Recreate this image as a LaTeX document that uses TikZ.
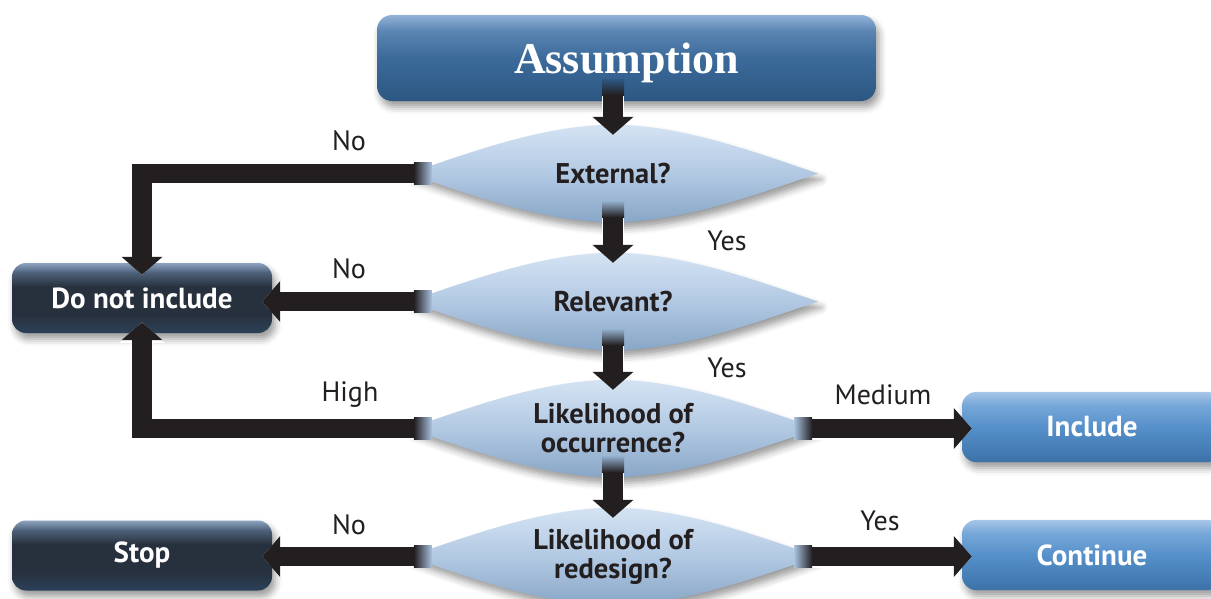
\documentclass[tikz,border=0pt]{standalone}
\usepackage{fontspec}
\setmainfont{Liberation Serif}
\newfontfamily\sansfont{PT Sans}
\usetikzlibrary{arrows.meta,shadows.blur,calc,backgrounds}

\definecolor{ink}{HTML}{231F20}
\definecolor{diatop}{HTML}{D4E3F3}
\definecolor{diamid}{HTML}{B2C9E3}
\definecolor{diabot}{HTML}{88A6C6}
\definecolor{diaside}{HTML}{A9C2DE}
\definecolor{diafoot}{HTML}{93AECC}
\definecolor{ttop}{HTML}{93B3D8}
\definecolor{tup}{HTML}{5C86B3}
\definecolor{tmid}{HTML}{3B6A9A}
\definecolor{tbot}{HTML}{2D5782}
\definecolor{btop}{HTML}{A7C6E7}
\definecolor{bup}{HTML}{78A8D9}
\definecolor{bmid}{HTML}{5690CA}
\definecolor{bbot}{HTML}{3C72A8}
\definecolor{ktop}{HTML}{8CA3BF}
\definecolor{kup}{HTML}{4D6078}
\definecolor{kmid}{HTML}{27313D}
\definecolor{kbot}{HTML}{2B4159}

\pgfdeclareverticalshading{titleshade}{100bp}{color(0bp)=(tbot); color(25bp)=(tbot); color(50bp)=(tmid); color(66bp)=(tup); color(75bp)=(ttop); color(100bp)=(ttop)}
\pgfdeclareverticalshading{blueshade}{100bp}{color(0bp)=(bbot); color(25bp)=(bbot); color(50bp)=(bmid); color(66bp)=(bup); color(75bp)=(btop); color(100bp)=(btop)}
\pgfdeclareverticalshading{darkshade}{100bp}{color(0bp)=(kbot); color(25bp)=(kbot); color(38bp)=(kmid); color(58bp)=(kmid); color(68bp)=(kup); color(75bp)=(ktop); color(100bp)=(ktop)}
\pgfdeclareverticalshading{diashade}{100bp}{color(0bp)=(diabot); color(25bp)=(diabot); color(50bp)=(diamid); color(75bp)=(diatop); color(100bp)=(diatop)}

\begin{document}
\begin{tikzpicture}[x=1pt,y=-1pt,
  softshadow/.style={blur shadow={shadow xshift=3pt, shadow yshift=-6pt, shadow blur radius=7pt, shadow opacity=40}},
  box/.style={rectangle, rounded corners=14pt, minimum width=260pt, minimum height=70pt,
    inner sep=0pt, text=white, font=\sansfont\bfseries\fontsize{29}{31}\selectfont, softshadow},
  darkbox/.style={box, shading=darkshade},
  bluebox/.style={box, shading=blueshade},
  titlebox/.style={rectangle, rounded corners=15pt, minimum width=499pt, minimum height=86pt,
    inner sep=0pt, text depth=0pt, text=white, font=\bfseries\fontsize{44}{46}\selectfont,
    shading=titleshade, softshadow},
  decision/.style={rectangle, minimum width=410pt, minimum height=97pt, inner sep=0pt,
    align=center, text=ink, font=\sansfont\bfseries\fontsize{28.5}{29}\selectfont},
  diafill/.style={shading=diashade, softshadow},
  flow/.style={draw=ink, line width=19.5pt, -{Triangle[width=40pt,length=18pt]},
    preaction={draw=white, line width=22pt, -{Triangle[width=45pt,length=21pt]}}},
  lab/.style={font=\sansfont\fontsize{28}{30}\selectfont, text=ink, inner sep=0pt}
]
\useasboundingbox (0,0) rectangle (1211,598);

% process boxes
\node[titlebox] (assume) at (626.5,58) {Assumption};
\node[darkbox] (dni)  at (142,298)   {Do not include};
\node[darkbox] (stop) at (142,555.5) {Stop};
\node[bluebox] (inc)  at (1092,427)  {Include};
\node[bluebox] (cont) at (1092,555)  {Continue};

% decisions: text and anchors; the lens-shaped fill sits on the background layer
\node[decision] (ext) at (613,173.5) {External?};
\node[decision] (rel) at (613,301.5) {Relevant?};
\node[decision] (occ) at (613,428.5) {Likelihood of\\occurrence?};
\node[decision] (red) at (613,556.5) {Likelihood of\\redesign?};

\begin{pgfonlayer}{background}
\foreach \d in {ext,rel,occ,red}{
  \path[diafill]
    (\d.west) .. controls ($(\d.west)+(60,-20)$) and ($(\d.north)+(-70,0)$) .. (\d.north)
    .. controls ($(\d.north)+(70,0)$) and ($(\d.east)+(-60,-20)$) .. (\d.east)
    .. controls ($(\d.east)+(-60,20)$) and ($(\d.south)+(70,0)$) .. (\d.south)
    .. controls ($(\d.south)+(-70,0)$) and ($(\d.west)+(60,20)$) .. cycle;
}
\end{pgfonlayer}

% connectors
\draw[flow] ($(assume.south -| ext.north)+(0,-12)$) -- ($(ext.north)+(0,10)$);
\draw[flow] ($(ext.south)+(0,-14)$) -- ($(rel.north)+(0,10)$);
\draw[flow] ($(rel.south)+(0,-14)$) -- ($(occ.north)+(0,10)$);
\draw[flow] ($(occ.south)+(0,-14)$) -- ($(red.north)+(0,10)$);
\draw[flow] ($(ext.west)+(14,0)$) -| ($(dni.north)+(0,12)$);
\draw[flow] ($(rel.west)+(14,0)$) -- ($(rel.west -| dni.east)+(-10,0)$);
\draw[flow] ($(occ.west)+(14,0)$) -| ($(dni.south)+(0,-11)$);
\draw[flow] ($(occ.east)+(-14,0)$) -- ($(occ.east -| inc.west)+(10,0)$);
\draw[flow] ($(red.west)+(14,0)$) -- ($(red.west -| stop.east)+(-10,0)$);
\draw[flow] ($(red.east)+(-14,0)$) -- ($(red.east -| cont.west)+(10,0)$);

% soft transitions where the connectors leave their sources
\fill[top color=tbot, bottom color=ink] ($(assume.south -| ext.north)+(-11,-22)$) rectangle ($(assume.south -| ext.north)+(11,-6)$);
\foreach \d in {ext,rel,occ}{
  \fill[top color=diafoot, bottom color=ink] ($(\d.south)+(-11,-21)$) rectangle ($(\d.south)+(11,-5)$);
}
\foreach \d in {ext,rel,occ,red}{
  \fill[left color=ink, right color=diaside] ($(\d.west)+(6,-11)$) rectangle ($(\d.west)+(24,11)$);
}
\foreach \d in {occ,red}{
  \fill[left color=diaside, right color=ink] ($(\d.east)+(-24,-11)$) rectangle ($(\d.east)+(-6,11)$);
}

% branch labels
\node[lab] (l1) at (349,141) {No};
\node[lab] (l2) at (727,241) {Yes};
\node[lab] (l3) at (349,269) {No};
\node[lab] (l4) at (727,368) {Yes};
\node[lab] (l5) at (350,395) {High};
\node[lab] (l6) at (883,395) {Medium};
\node[lab] (l7) at (349,525) {No};
\node[lab] (l8) at (880,521) {Yes};
\end{tikzpicture}
\end{document}
